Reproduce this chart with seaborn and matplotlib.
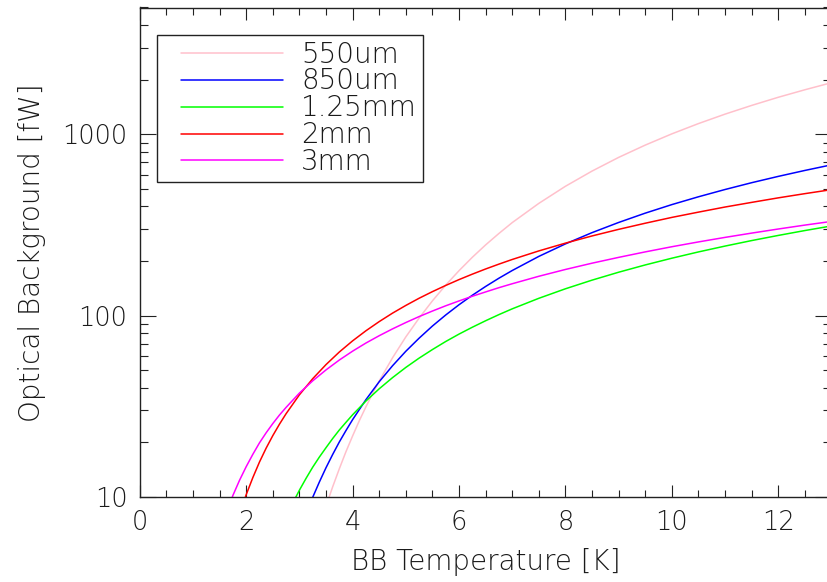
import numpy as np
import pandas as pd
import matplotlib
matplotlib.use("Agg")
import matplotlib.pyplot as plt
import seaborn as sns
from matplotlib.lines import Line2D
from matplotlib.legend_handler import HandlerLine2D
from matplotlib.ticker import MultipleLocator, LogLocator, FixedLocator, NullFormatter, FuncFormatter

# ---- data ----
bands = ["550um", "850um", "1.25mm", "2mm", "3mm"]
band_colors = ["#FFC0CB", "#0000FF", "#00FF00", "#FF0000", "#FF00FF"]

temp_550um = [3.5, 3.625, 3.75, 3.875, 4, 4.125, 4.25, 4.375, 4.5, 4.75, 5, 5.25, 5.5, 5.75,
              6, 6.25, 6.5, 6.75, 7, 7.5, 8, 8.5, 9, 9.5, 10, 10.5, 11, 11.5, 12, 12.5, 13]
power_550um = [8.9, 11.37, 14.3, 17.77, 21.7, 26.3, 31.4, 37.2, 43.6, 58.5, 76.3, 96.9, 120.6, 147.3,
               176.9, 209.7, 245.4, 283.8, 325.7, 415.8, 516.6, 626.5, 745.4, 871.3, 1005, 1145,
               1291, 1442, 1599, 1759, 1924]

temp_850um = [3, 3.125, 3.25, 3.375, 3.5, 3.625, 3.75, 3.875, 4, 4.25, 4.5, 4.75, 5, 5.25, 5.5,
              5.75, 6, 6.25, 6.5, 6.75, 7, 7.5, 8, 8.5, 9, 9.5, 10, 10.5, 11, 11.5, 12, 12.5, 13]
power_850um = [6.4, 8.07, 9.96, 12.09, 14.5, 17.15, 20.1, 23.24, 26.7, 34.4, 43.2, 52.9, 63.6, 75.1,
               87.6, 100.8, 114.8, 129.5, 144.8, 160.8, 177.3, 212.1, 248.6, 286.8, 326.3, 367.3,
               409.4, 452.1, 495.9, 540.6, 585.7, 631.6, 678.2]

temp_1p25mm = [2.75, 2.875, 3, 3.125, 3.25, 3.375, 3.5, 3.625, 3.75, 3.875, 4, 4.25, 4.5, 4.75, 5,
               5.25, 5.5, 5.75, 6, 6.25, 6.5, 6.75, 7, 7.5, 8, 8.5, 9, 9.5, 10, 10.5, 11, 11.5,
               12, 12.5, 13]
power_1p25mm = [7.75, 9.26, 10.9, 12.67, 14.6, 16.6, 18.7, 21.0, 23.4, 25.8, 28.4, 33.8, 39.5, 45.5,
                51.8, 58.3, 65.0, 72.0, 79.1, 86.3, 93.7, 101.3, 109.0, 124.6, 140.6, 156.9, 173.5,
                190.3, 207.3, 224.5, 241.8, 259.3, 276.8, 294.5, 312.2]

temp_2mm = [1.75, 1.875, 2, 2.125, 2.25, 2.375, 2.5, 2.625, 2.75, 3, 3.25, 3.5, 3.75, 4, 4.25, 4.5,
            4.75, 5, 5.25, 5.5, 5.75, 6, 6.25, 6.5, 6.75, 7, 7.5, 8, 8.5, 9, 9.5, 10, 10.5, 11,
            11.5, 12, 12.5, 13]
power_2mm = [6.1, 8.05, 10.3, 12.8, 15.6, 18.6, 21.8, 25.2, 28.8, 36.6, 44.9, 53.7, 63.0, 72.6, 82.5,
             92.7, 103.2, 113.8, 124.7, 135.6, 146.7, 158, 169.3, 180.8, 192.3, 204, 227.4, 251,
             275, 299, 323.2, 348, 372.1, 397, 421.1, 446, 470.5, 495]

temp_3mm = [1.5, 1.625, 1.75, 1.875, 2, 2.125, 2.25, 2.375, 2.5, 2.625, 2.75, 3, 3.25, 3.5, 3.75,
            4, 4.25, 4.5, 4.75, 5, 5.25, 5.5, 5.75, 6, 6.25, 6.5, 6.75, 7, 7.5, 8, 8.5, 9, 9.5,
            10, 10.5, 11, 11.5, 12, 12.5, 13]
power_3mm = [6.3, 8.12, 10.2, 12.37, 14.7, 17.2, 19.9, 22.6, 25.4, 28.3, 31.2, 37.4, 43.7, 50.2,
             56.9, 63.7, 70.6, 77.5, 84.5, 91.6, 98.8, 106.0, 113.3, 120.5, 127.9, 135.1, 142.6,
             149.9, 164.8, 179.7, 194.6, 209.5, 224.6, 239.8, 254.9, 270, 285.1, 300.3, 315.6,
             330.7]

x_ticks = [0, 2, 4, 6, 8, 10, 12]
y_ticks = [10, 100, 1000]

series = [(bands[0], temp_550um, power_550um),
          (bands[1], temp_850um, power_850um),
          (bands[2], temp_1p25mm, power_1p25mm),
          (bands[3], temp_2mm, power_2mm),
          (bands[4], temp_3mm, power_3mm)]
df = pd.concat([pd.DataFrame({"T": t, "P": p, "band": b}) for b, t, p in series],
               ignore_index=True)

# ---- style ----
sns.set_style("white")
plt.rcParams["font.family"] = ["DejaVu Sans"]
plt.rcParams["font.weight"] = "light"
plt.rcParams["axes.labelweight"] = "light"
text_color = "#1a1a1a"

W, H = 827, 582
fig = plt.figure(figsize=(W / 100, H / 100), dpi=100)
x0, x1, ytop, ybot = 139.8, 831.4, 7.5, 497.0
ax = fig.add_axes([x0 / W, 1 - ybot / H, (x1 - x0) / W, (ybot - ytop) / H])

sns.lineplot(data=df, x="T", y="P", hue="band", hue_order=bands,
             palette=dict(zip(bands, band_colors)), estimator=None,
             sort=False, linewidth=1.1, ax=ax)

ax.set_yscale("log")
ax.set_xlim(0, 13)
ax.set_ylim(10, 5000)

ax.xaxis.set_major_locator(FixedLocator(x_ticks))
ax.xaxis.set_minor_locator(MultipleLocator(0.5))
ax.yaxis.set_major_locator(FixedLocator(y_ticks))
ax.yaxis.set_major_formatter(FuncFormatter(lambda v, p: f"{int(round(v))}"))
ax.yaxis.set_minor_locator(LogLocator(base=10, subs=range(2, 10)))
ax.yaxis.set_minor_formatter(NullFormatter())

tick_col = "#222222"
ax.tick_params(axis="x", which="major", direction="in", length=8.6, width=0.8,
               bottom=True, top=True, labelsize=18.5, pad=9, color=tick_col,
               labelcolor=text_color)
ax.tick_params(axis="x", which="minor", direction="in", length=4.7, width=0.8,
               bottom=True, top=True, color=tick_col)
ax.tick_params(axis="y", which="major", direction="in", length=11.5, width=0.8,
               left=True, right=True, labelsize=18.5, pad=9, color=tick_col,
               labelcolor=text_color)
ax.tick_params(axis="y", which="minor", direction="in", length=6.1, width=0.8,
               left=True, right=True, color=tick_col)

for s in ax.spines.values():
    s.set_color(tick_col)
    s.set_linewidth(1.0)

ax.set_xlabel("BB Temperature [K]", fontsize=20, fontweight="light",
              color=text_color, labelpad=10)
ax.set_ylabel("Optical Background [fW]", fontsize=20, fontweight="light",
              color=text_color, labelpad=12)

handles, labels = ax.get_legend_handles_labels()
leg = ax.legend(handles, labels, loc="upper left",
                bbox_to_anchor=(17 / (x1 - x0), 1 - 27.5 / (ybot - ytop)),
                borderaxespad=0, fontsize=20, frameon=True, fancybox=False,
                framealpha=1, edgecolor=tick_col, handlelength=4.35,
                handletextpad=0.65, labelspacing=-0.04, borderpad=0.2,
                handler_map={Line2D: HandlerLine2D(xpad=0.68)})
leg.get_frame().set_linewidth(1.0)
for t in leg.get_texts():
    t.set_color(text_color)

fig.savefig("out.png", dpi=100)
